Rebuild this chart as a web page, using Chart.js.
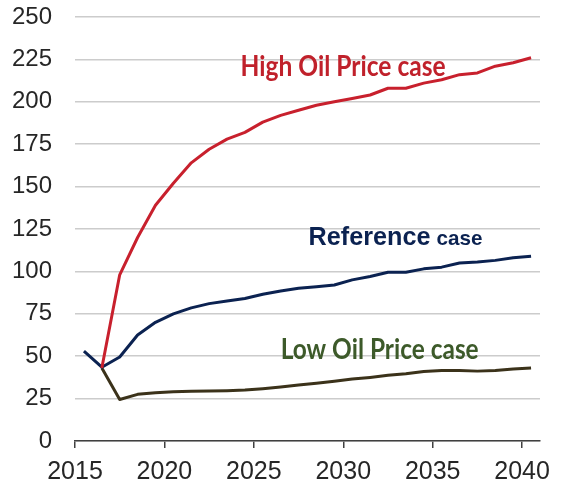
<!DOCTYPE html>
<html>
<head>
<meta charset="utf-8">
<script src="https://cdn.jsdelivr.net/npm/chart.js@4"></script>
<style>
  body { margin: 0; background: #fff; }
  #wrap { width: 563px; height: 484px; }
</style>
</head>
<body>
<div id="wrap"><canvas id="oilChart"></canvas></div>
<script>
// data
const years = [2015, 2016, 2017, 2018, 2019, 2020, 2021, 2022, 2023, 2024, 2025, 2026, 2027,
  2028, 2029, 2030, 2031, 2032, 2033, 2034, 2035, 2036, 2037, 2038, 2039, 2040];
const highCase = [null, 43, 98, 120, 139, 152, 164, 172, 178, 182, 188, 192, 195,
  198, 200, 202, 204, 208, 208, 211, 213, 216, 217, 221, 223, 226];
const referenceCase = [53, 43.5, 49.5, 62.5, 70, 75, 78.5, 81, 82.5, 84, 86.5, 88.5, 90,
  91, 92, 95, 97, 99.5, 99.5, 101.5, 102.5, 105, 105.5, 106.5, 108, 109];
const lowCase = [null, 43, 24.5, 27.5, 28.5, 29, 29.3, 29.5, 29.7, 30, 30.8, 31.8, 33,
  34, 35.2, 36.5, 37.5, 38.7, 39.7, 41, 41.5, 41.6, 41.2, 41.6, 42.4, 43];
const xTicks = [2015, 2020, 2025, 2030, 2035, 2040];
const yTicks = [0, 25, 50, 75, 100, 125, 150, 175, 200, 225, 250];

// each year sits in the middle of its slot
function toPoints(values) {
  return years.map((y, i) => ({ x: y + 0.5, y: values[i] }));
}

// draw text squeezed/stretched to a given width
function fitText(ctx, text, x, y, width, font, color) {
  ctx.save();
  ctx.font = font;
  ctx.fillStyle = color;
  ctx.textBaseline = 'alphabetic';
  const w = ctx.measureText(text).width;
  ctx.translate(x, y);
  ctx.scale(width / w, 1);
  ctx.fillText(text, 0, 0);
  ctx.restore();
}

const caseLabels = {
  id: 'caseLabels',
  afterDatasetsDraw(chart) {
    const { ctx, scales } = chart;
    const px = v => scales.x.getPixelForValue(v);
    const py = v => scales.y.getPixelForValue(v);

    fitText(ctx, 'High Oil Price case', px(2024.26), py(215.2), 205,
      'bold 28px Lato', '#c0212b');

    fitText(ctx, 'Reference', px(2028.06), py(115.6), 122,
      'bold 25px "Liberation Sans"', '#0b2251');
    fitText(ctx, 'case', px(2028.06) + 128, py(115.6), 46,
      'bold 21px "Liberation Sans"', '#0b2251');

    fitText(ctx, 'Low Oil Price case', px(2026.5), py(48.3), 198,
      'bold 28px Lato', '#3d5a2a');
  }
};

const ctx = document.getElementById('oilChart').getContext('2d');
new Chart(ctx, {
  type: 'line',
  data: {
    datasets: [
      { label: 'High Oil Price case', data: toPoints(highCase), borderColor: '#c8202d', borderWidth: 3 },
      { label: 'Reference case', data: toPoints(referenceCase), borderColor: '#0b2251', borderWidth: 3 },
      { label: 'Low Oil Price case', data: toPoints(lowCase), borderColor: '#3b321a', borderWidth: 3 }
    ]
  },
  options: {
    responsive: true,
    maintainAspectRatio: false,
    animation: false,
    layout: { padding: { top: 17, right: 23, left: 0, bottom: 0 } },
    elements: { point: { radius: 0 }, line: { tension: 0, borderCapStyle: 'butt', borderJoinStyle: 'round' } },
    plugins: { legend: { display: false }, tooltip: { enabled: false } },
    scales: {
      x: {
        type: 'linear',
        min: 2015,
        max: 2041,
        afterBuildTicks: scale => { scale.ticks = xTicks.map(v => ({ value: v })); },
        afterFit: scale => { scale.height = 43; scale.paddingLeft = 0; scale.paddingRight = 0; },
        grid: { drawOnChartArea: false, drawTicks: true, tickLength: 7, color: '#404040', lineWidth: 1.5 },
        border: { display: true, color: '#404040', width: 1.5 },
        ticks: {
          color: '#262626',
          font: { family: '"Liberation Sans", Arial', size: 25 },
          padding: 9,
          maxRotation: 0,
          callback: v => String(v)
        }
      },
      y: {
        min: 0,
        max: 250,
        afterBuildTicks: scale => { scale.ticks = yTicks.map(v => ({ value: v })); },
        afterFit: scale => { scale.width = 75; scale.paddingTop = 0; scale.paddingBottom = 0; },
        grid: { drawTicks: false, color: '#cccccc', lineWidth: 1.5 },
        border: { display: false },
        ticks: {
          color: '#262626',
          font: { family: '"Liberation Sans", Arial', size: 24 },
          padding: 23
        }
      }
    }
  },
  plugins: [caseLabels]
});
</script>
</body>
</html>
